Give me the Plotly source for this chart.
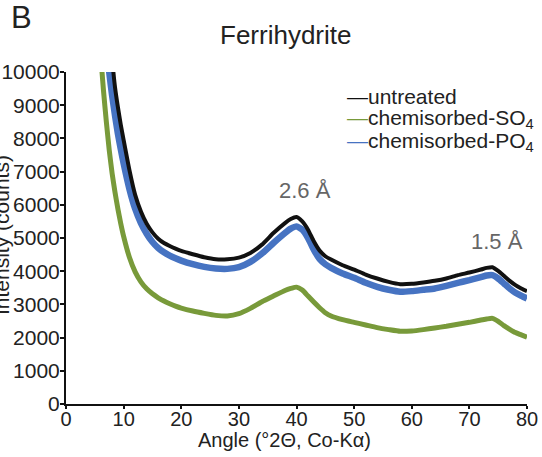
import plotly.graph_objects as go

# ---- data (angle in degrees 2-theta, intensity in counts) ----
angle_untreated = [7.5, 8, 8.5, 9, 9.5, 10, 11, 12, 13, 14, 15, 16, 17, 18, 19, 20, 22, 24, 26, 28, 30,
                   32, 34, 36, 38, 39, 40, 41, 42, 43, 44, 45, 46, 48, 50, 52, 54, 56, 58, 60, 62, 64,
                   66, 68, 70, 72, 73, 74, 75, 76, 77, 78, 79, 80]
untreated = [11400, 10400, 9550, 8950, 8420, 7950, 7050, 6300, 5800, 5430, 5170, 4980, 4850, 4760, 4680,
             4610, 4510, 4420, 4360, 4360, 4410, 4550, 4800, 5150, 5450, 5570, 5630, 5500, 5250, 4900,
             4620, 4450, 4350, 4180, 4050, 3900, 3780, 3680, 3610, 3620, 3660, 3710, 3780, 3880, 3960,
             4050, 4100, 4120, 4010, 3860, 3710, 3580, 3480, 3400]

angle_so4 = [5.8, 6.25, 6.5, 7, 7.5, 8, 8.5, 9, 9.5, 10, 11, 12, 13, 14, 15, 16, 17, 18, 19, 20, 22, 24,
             26, 28, 30, 32, 34, 36, 38, 39, 40, 41, 42, 43, 44, 45, 46, 48, 50, 52, 54, 56, 58, 60, 62,
             64, 66, 68, 70, 72, 73, 74, 75, 76, 77, 78, 79, 80]
so4 = [11000, 10000, 9450, 8500, 7650, 6950, 6380, 5880, 5440, 5050, 4420, 3980, 3680, 3470, 3320, 3200,
       3100, 3020, 2950, 2890, 2800, 2730, 2670, 2650, 2720, 2880, 3080, 3250, 3420, 3480, 3520, 3430,
       3250, 3070, 2900, 2750, 2650, 2540, 2460, 2380, 2300, 2240, 2190, 2200, 2240, 2290, 2340, 2400,
       2460, 2530, 2560, 2580, 2490, 2360, 2250, 2150, 2080, 2010]

angle_po4 = [7.0, 7.5, 8, 8.5, 9, 9.5, 10, 11, 12, 13, 14, 15, 16, 17, 18, 19, 20, 22, 24, 26, 28, 30,
             32, 34, 36, 38, 39, 40, 41, 42, 43, 44, 45, 46, 48, 50, 52, 54, 56, 58, 60, 62, 64, 66, 68,
             70, 72, 73, 74, 75, 76, 77, 78, 79, 80]
po4 = [10900, 10000, 9300, 8700, 8150, 7680, 7250, 6480, 5880, 5450, 5130, 4880, 4700, 4570, 4470, 4390,
       4320, 4210, 4130, 4080, 4070, 4120, 4280, 4530, 4850, 5150, 5280, 5350, 5250, 5000, 4650, 4370,
       4210, 4100, 3930, 3800, 3650, 3530, 3440, 3380, 3400, 3440, 3480, 3560, 3650, 3730, 3820, 3870,
       3880, 3780, 3630, 3480, 3350, 3260, 3180]

x_ticks = [0, 10, 20, 30, 40, 50, 60, 70, 80]
y_ticks = list(range(0, 10001, 1000))
y_tick_labels = [str(v) for v in y_ticks]

C_BLACK = "#111111"
C_GREEN = "#789a3a"
C_BLUE = "#4673c2"
FONT = "Liberation Sans, Arial, sans-serif"

fig = go.Figure()
fig.add_trace(go.Scatter(x=angle_so4, y=so4, mode="lines", name="chemisorbed-SO4",
                         line=dict(color=C_GREEN, width=5, shape="spline", smoothing=0.5)))
fig.add_trace(go.Scatter(x=angle_po4, y=po4, mode="lines", name="chemisorbed-PO4",
                         line=dict(color=C_BLUE, width=6.5, shape="spline", smoothing=0.5)))
fig.add_trace(go.Scatter(x=angle_untreated, y=untreated, mode="lines", name="untreated",
                         line=dict(color=C_BLACK, width=4, shape="spline", smoothing=0.5)))

fig.update_layout(
    width=542, height=457,
    margin=dict(l=66, r=15, t=72, b=53),
    paper_bgcolor="white", plot_bgcolor="white",
    showlegend=False,
    font=dict(family=FONT, size=20, color="#222222"),
    xaxis=dict(range=[0, 80], tickvals=x_ticks, showgrid=False, zeroline=False, automargin=False,
               showline=True, linecolor="#111111", linewidth=2, ticks="outside", ticklen=3,
               tickwidth=2, tickcolor="#111111", ticklabelstandoff=-7,
               tickfont=dict(size=20)),
    yaxis=dict(range=[0, 10000], tickvals=y_ticks, ticktext=y_tick_labels, showgrid=False,
               automargin=False, zeroline=False, showline=True, linecolor="#111111", linewidth=2,
               ticks="outside", ticklen=4, tickwidth=2, tickcolor="#111111", ticklabelstandoff=-4,
               tickfont=dict(size=21)),
)

ann = []
ann.append(dict(text="B", xref="paper", yref="paper", x=(21 - 66) / 461, y=(404 - 18) / 332,
                xanchor="center", yanchor="middle", showarrow=False,
                font=dict(size=31, color="#222222")))
ann.append(dict(text="Ferrihydrite", xref="paper", yref="paper", x=(285 - 66) / 461, y=(404 - 35) / 332,
                xanchor="center", yanchor="middle", showarrow=False,
                font=dict(size=26, color="#222222")))
ann.append(dict(text="Intensity (counts)", xref="paper", yref="paper", x=(1 - 66) / 461,
                y=(404 - 235) / 332, xanchor="center", yanchor="middle", textangle=-90,
                showarrow=False, font=dict(size=21, color="#222222")))
ann.append(dict(text="Angle (°2Θ, Co-Kα)", xref="paper", yref="paper", x=(284 - 66) / 461,
                y=(404 - 440) / 332, xanchor="center", yanchor="middle",
                showarrow=False, font=dict(size=20, color="#222222")))
ann.append(dict(text="2.6 Å", xref="paper", yref="paper", x=(305 - 66) / 461, y=(404 - 190) / 332,
                xanchor="center", yanchor="middle", showarrow=False,
                font=dict(size=22, color="#666666")))
ann.append(dict(text="1.5 Å", xref="paper", yref="paper", x=(497 - 66) / 461, y=(404 - 242) / 332,
                xanchor="center", yanchor="middle", showarrow=False,
                font=dict(size=22, color="#666666")))
legend_rows = [("untreated", C_BLACK, 96), ("chemisorbed-SO<sub>4</sub>", C_GREEN, 119),
               ("chemisorbed-PO<sub>4</sub>", C_BLUE, 142)]
for label, col, yc in legend_rows:
    ann.append(dict(text=f"<span style='color:{col}'>—</span>{label}", xref="paper", yref="paper",
                    x=(345 - 66) / 461, y=(404 - yc) / 332, xanchor="left", yanchor="middle",
                    showarrow=False, font=dict(size=21, color="#222222")))
fig.update_layout(annotations=ann)

fig.write_html("out.html")
